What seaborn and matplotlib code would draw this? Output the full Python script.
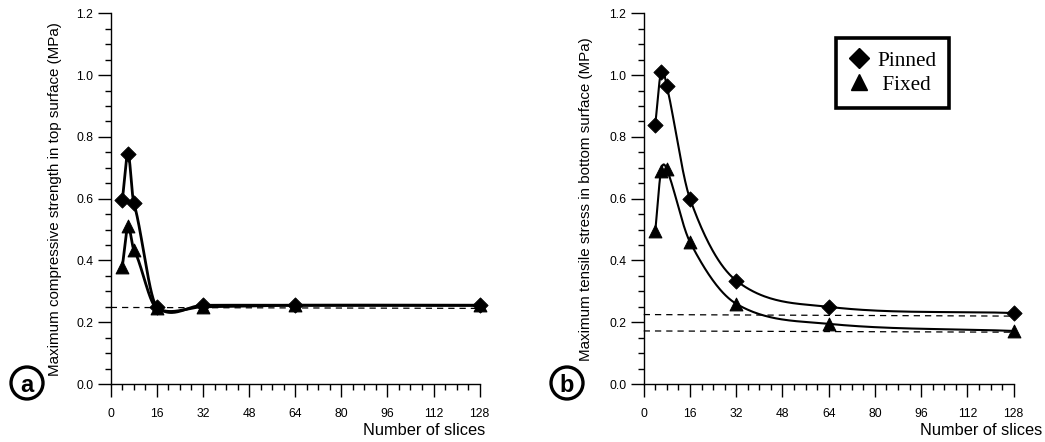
import numpy as np
import pandas as pd
import matplotlib
matplotlib.use("Agg")
import matplotlib.pyplot as plt
from matplotlib.lines import Line2D
from matplotlib.patches import Circle
from matplotlib.ticker import MultipleLocator
import seaborn as sns

# number of slices
slices = [4, 6, 8, 16, 32, 64, 128]

# (a) max compressive strength in top surface (MPa)
top_pinned = [0.595, 0.745, 0.585, 0.25, 0.255, 0.255, 0.255]
top_fixed = [0.38, 0.51, 0.435, 0.245, 0.25, 0.255, 0.255]
top_limit = [0.248, 0.245]

# (b) max tensile stress in bottom surface (MPa)
bot_pinned = [0.84, 1.01, 0.965, 0.60, 0.335, 0.25, 0.23]
bot_fixed = [0.495, 0.69, 0.695, 0.46, 0.26, 0.195, 0.172]
bot_limit_pinned = [0.225, 0.22]
bot_limit_fixed = [0.172, 0.168]
limit_x = [0, 128]

ylabels = ["Maximum compressive strength in top surface (MPa)",
           "Maximum tensile stress in bottom surface (MPa)"]


def smooth(x, y, tension=1.0, n=50): # catmull-rom style hermite curve through the points, only for drawing
    x = np.asarray(x, float)
    y = np.asarray(y, float)
    m = np.zeros(len(x))
    m[0] = (y[1] - y[0]) / (x[1] - x[0])
    m[-1] = (y[-1] - y[-2]) / (x[-1] - x[-2])
    m[1:-1] = tension * (y[2:] - y[:-2]) / (x[2:] - x[:-2])
    xs, ys = [], []
    for i in range(len(x) - 1):
        h = x[i + 1] - x[i]
        t = np.linspace(0, 1, n)
        h00 = 2 * t**3 - 3 * t**2 + 1
        h10 = t**3 - 2 * t**2 + t
        h01 = -2 * t**3 + 3 * t**2
        h11 = t**3 - t**2
        xs.append(x[i] + t * h)
        ys.append(h00 * y[i] + h10 * h * m[i] + h01 * y[i + 1] + h11 * h * m[i + 1])
    return pd.DataFrame({"x": np.concatenate(xs), "y": np.concatenate(ys)})


sns.set_style("ticks")
plt.rcParams["font.family"] = ["Liberation Sans", "DejaVu Sans"]
plt.rcParams["text.color"] = "black"
plt.rcParams["axes.labelcolor"] = "black"
plt.rcParams["xtick.labelcolor"] = "black"
plt.rcParams["ytick.labelcolor"] = "black"

fig = plt.figure(figsize=(10.45, 4.42), dpi=100)
ax_a = fig.add_axes([0.106, 0.131, 0.353, 0.839])
ax_b = fig.add_axes([0.616, 0.131, 0.354, 0.839])

panels = [
    (ax_a, top_pinned, top_fixed, [top_limit], "a", 2.0, 0.6, 1.016, 27, -0.133),
    (ax_b, bot_pinned, bot_fixed, [bot_limit_pinned, bot_limit_fixed], "b", 1.5, 1.0, 1.076, 567, -0.138),
]

for i, (ax, pinned, fixed, limits, tag, lw, tens, lab_x, circ_x, ylab_x) in enumerate(panels):
    for lim in limits:
        ax.plot(limit_x, lim, color="black", lw=0.9, ls=(0, (5, 4)), clip_on=False)
    for vals, mk, ms in [(pinned, "D", 60), (fixed, "^", 85)]:
        sns.lineplot(data=smooth(slices, vals, tens), x="x", y="y", ax=ax,
                     color="black", lw=lw, sort=False)
        pts = pd.DataFrame({"x": slices, "y": vals})
        sns.scatterplot(data=pts, x="x", y="y", ax=ax, marker=mk, s=ms,
                        color="black", edgecolor="black", clip_on=False, zorder=5)

    ax.set_xlim(0, 128)
    ax.set_ylim(0, 1.2)
    ax.xaxis.set_major_locator(MultipleLocator(16))
    ax.xaxis.set_minor_locator(MultipleLocator(4))
    ax.yaxis.set_major_locator(MultipleLocator(0.2))
    ax.yaxis.set_minor_locator(MultipleLocator(0.05))
    ax.yaxis.set_major_formatter(plt.FormatStrFormatter("%.1f"))
    ax.tick_params(which="major", length=9.5, width=1, labelsize=8.7, color="black")
    ax.tick_params(which="minor", length=4.5, width=1, color="black")
    ax.tick_params(axis="x", pad=7.5)
    ax.tick_params(axis="y", pad=3)
    sns.despine(ax=ax)
    for s in ["left", "bottom"]:
        ax.spines[s].set_linewidth(1)
        ax.spines[s].set_color("black")
    ax.set_xlabel("")
    ax.set_ylabel(ylabels[i], fontsize=10.9)
    ax.yaxis.set_label_coords(ylab_x, 0.5)
    ax.annotate("Number of slices", xy=(lab_x, -0.126), xycoords="axes fraction",
                ha="right", va="center", fontsize=11.8)
    # panel tag in a circle
    fig.add_artist(Circle((circ_x / 100, 0.59), 0.16, transform=fig.dpi_scale_trans,
                          fc="white", ec="black", lw=2.4))
    fig.text(circ_x / 1045, 0.59 / 4.42, tag, ha="center", va="center_baseline",
             fontsize=17, fontweight="bold")

handles = [Line2D([], [], marker="D", ls="none", color="black", markersize=10),
           Line2D([], [], marker="^", ls="none", color="black", markersize=11)]
leg = ax_b.legend(handles, ["Pinned", " Fixed"], loc="upper left",
                  bbox_to_anchor=(0.519, 0.933), frameon=True, fancybox=False,
                  framealpha=1, edgecolor="black", handlelength=1.0,
                  handletextpad=0.35, borderpad=0.6, labelspacing=0.2,
                  borderaxespad=0, prop={"family": "Liberation Serif", "size": 15.3})
leg.get_frame().set_linewidth(2.6)

fig.savefig("out.png", dpi=100)
